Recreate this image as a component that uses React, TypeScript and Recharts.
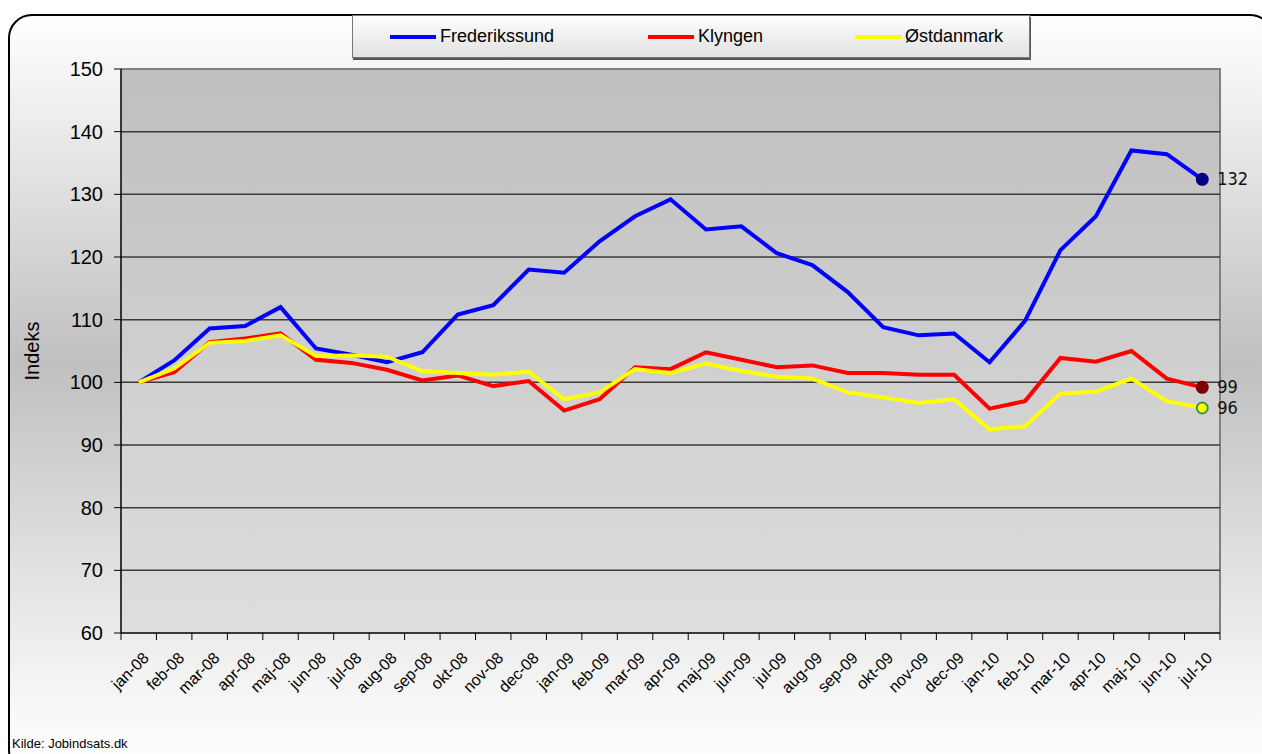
import { LineChart, Line, XAxis, YAxis, CartesianGrid } from 'recharts';

// months on the x axis
const months = [
  'jan-08', 'feb-08', 'mar-08', 'apr-08', 'maj-08', 'jun-08', 'jul-08', 'aug-08', 'sep-08', 'okt-08',
  'nov-08', 'dec-08', 'jan-09', 'feb-09', 'mar-09', 'apr-09', 'maj-09', 'jun-09', 'jul-09', 'aug-09',
  'sep-09', 'okt-09', 'nov-09', 'dec-09', 'jan-10', 'feb-10', 'mar-10', 'apr-10', 'maj-10', 'jun-10', 'jul-10',
];

const frederikssund = [
  100, 103.5, 108.6, 109.0, 112.0, 105.4, 104.4, 103.2, 104.8, 110.8,
  112.3, 118.0, 117.5, 122.5, 126.5, 129.2, 124.4, 124.9, 120.6, 118.7,
  114.4, 108.8, 107.5, 107.8, 103.2, 109.8, 121.1, 126.5, 137.0, 136.4, 132.4,
];

const klyngen = [
  100, 101.6, 106.4, 107.0, 107.8, 103.6, 103.1, 102.0, 100.3, 101.1,
  99.4, 100.2, 95.5, 97.3, 102.4, 102.1, 104.8, 103.6, 102.4, 102.7,
  101.5, 101.5, 101.2, 101.2, 95.8, 97.0, 103.9, 103.3, 105.0, 100.6, 99.2,
];

const oestdanmark = [
  100, 102.2, 106.3, 106.6, 107.5, 104.2, 104.3, 104.1, 101.8, 101.5,
  101.2, 101.7, 97.3, 98.4, 102.1, 101.5, 103.0, 101.8, 100.9, 100.6,
  98.4, 97.6, 96.7, 97.3, 92.5, 93.0, 98.2, 98.5, 100.6, 97.0, 95.9,
];

const yTicks = [60, 70, 80, 90, 100, 110, 120, 130, 140, 150];

const data = months.map((m, i) => ({
  month: m,
  Frederikssund: frederikssund[i],
  Klyngen: klyngen[i],
  Østdanmark: oestdanmark[i],
}));

const W = 1262;
const H = 754;
const PLOT_LEFT = 121;
const PLOT_TOP = 69;
const PLOT_RIGHT = 1220;
const PLOT_BOTTOM = 633;
const PLOT_W = PLOT_RIGHT - PLOT_LEFT;
const BAND = PLOT_W / months.length;
const LAST = months.length - 1;
const FONT = "'Liberation Sans', Arial, sans-serif";

const series = [
  { key: 'Frederikssund', color: '#0000ff', dotFill: '#000080', dotStroke: '#000080', width: 258 },
  { key: 'Klyngen', color: '#ff0000', dotFill: '#800000', dotStroke: '#800000', width: 207 },
  { key: 'Østdanmark', color: '#ffff00', dotFill: '#ffff00', dotStroke: '#339944', width: 150 },
];

const renderMonthTick = (props: any) => {
  const { x, y, payload, index } = props;
  return (
    <g>
      <line x1={x - BAND / 2} y1={y} x2={x - BAND / 2} y2={y + 7} stroke="#000" strokeWidth={1} />
      {index === LAST && (
        <line x1={x + BAND / 2} y1={y} x2={x + BAND / 2} y2={y + 7} stroke="#000" strokeWidth={1} />
      )}
      <g transform={`translate(${x + 11},${y + 26})`}>
        <text transform="rotate(-45)" textAnchor="end" fontSize={16} fontFamily={FONT} fill="#000">
          {payload.value}
        </text>
      </g>
    </g>
  );
};

const makeDot = (fill: string, stroke: string) => (props: any) => {
  const { cx, cy, index } = props;
  if (index !== LAST) return <g key={`d-${index}`} />;
  return <circle key={`d-${index}`} cx={cx} cy={cy} r={5.5} fill={fill} stroke={stroke} strokeWidth={2} />;
};

const endLabel = (props: any) => {
  const { x, y, index, value } = props;
  if (index !== LAST) return null;
  return (
    <text
      x={x + 15}
      y={y}
      dy="0.33em"
      fontSize={18}
      fontFamily="'DejaVu Sans Condensed', 'Liberation Sans Narrow', sans-serif"
      fill="#111"
    >
      {Math.round(value)}
    </text>
  );
};

export default function App() {
  return (
    <div style={{ position: 'absolute', left: 0, top: 0, width: W, height: H, overflow: 'hidden', background: '#fff' }}>
      <div
        style={{
          position: 'absolute',
          left: 8,
          top: 14,
          width: 1266,
          height: 760,
          boxSizing: 'border-box',
          border: '2px solid #000',
          borderRadius: 24,
          background: 'linear-gradient(to bottom, #ffffff 0%, #c0c0c0 46%, #f6f6f6 90%, #ffffff 100%)',
        }}
      />
      <div
        style={{
          position: 'absolute',
          left: PLOT_LEFT,
          top: PLOT_TOP - 1,
          width: PLOT_W + 1,
          height: PLOT_BOTTOM - PLOT_TOP + 1,
          boxSizing: 'border-box',
          borderTop: '2px solid #808080',
          borderRight: '2px solid #808080',
          background: 'linear-gradient(to bottom, #bfbfbf, #dedede)',
        }}
      />
      {/* legend */}
      <div
        style={{
          position: 'absolute',
          left: 352,
          top: 15,
          boxSizing: 'border-box',
          width: 678,
          height: 43,
          border: '1px solid #777',
          boxShadow: '1px 2px 0 #555',
          background: 'linear-gradient(to bottom, #fdfdfd, #e2e2e2)',
          display: 'flex',
          alignItems: 'center',
          paddingLeft: 37,
          fontFamily: FONT,
          fontSize: 18,
          color: '#000',
        }}
      >
        {series.map((s) => (
          <div key={s.key} style={{ width: s.width, display: 'flex', alignItems: 'center' }}>
            <span style={{ display: 'inline-block', width: 46, height: 4, background: s.color, marginRight: 4 }} />
            <span>{s.key}</span>
          </div>
        ))}
      </div>
      <div style={{ position: 'absolute', left: 0, top: 0 }}>
        <LineChart
          width={W}
          height={H}
          data={data}
          margin={{ top: PLOT_TOP, right: W - PLOT_RIGHT, bottom: 0, left: 0 }}
        >
          <CartesianGrid
            vertical={false}
            horizontalValues={[70, 80, 90, 100, 110, 120, 130, 140]}
            stroke="#3a3a3a"
            strokeWidth={1.5}
            fill="none"
          />
          <XAxis
            dataKey="month"
            interval={0}
            padding={{ left: BAND / 2, right: BAND / 2 }}
            tickLine={false}
            tickSize={0}
            tickMargin={0}
            axisLine={{ stroke: '#000', strokeWidth: 1.5 }}
            tick={renderMonthTick}
            height={H - PLOT_BOTTOM}
          />
          <YAxis
            domain={[60, 150]}
            ticks={yTicks}
            interval={0}
            width={PLOT_LEFT}
            tickSize={7}
            tickMargin={11}
            axisLine={{ stroke: '#000', strokeWidth: 1.5 }}
            tickLine={{ stroke: '#000' }}
            tick={{ fill: '#000', fontSize: 20, fontFamily: FONT }}
            label={{
              value: 'Indeks',
              angle: -90,
              position: 'center',
              dx: -29,
              fill: '#000',
              fontSize: 20,
              fontFamily: FONT,
            }}
          />
          {series.map((s) => (
            <Line
              key={s.key}
              type="linear"
              dataKey={s.key}
              stroke={s.color}
              strokeWidth={4}
              dot={makeDot(s.dotFill, s.dotStroke)}
              activeDot={false}
              label={endLabel}
              isAnimationActive={false}
            />
          ))}
        </LineChart>
      </div>
      <div
        style={{
          position: 'absolute',
          left: 12,
          top: 736,
          fontFamily: FONT,
          fontSize: 13,
          color: '#000',
          whiteSpace: 'nowrap',
        }}
      >
        Kilde: Jobindsats.dk
      </div>
    </div>
  );
}
